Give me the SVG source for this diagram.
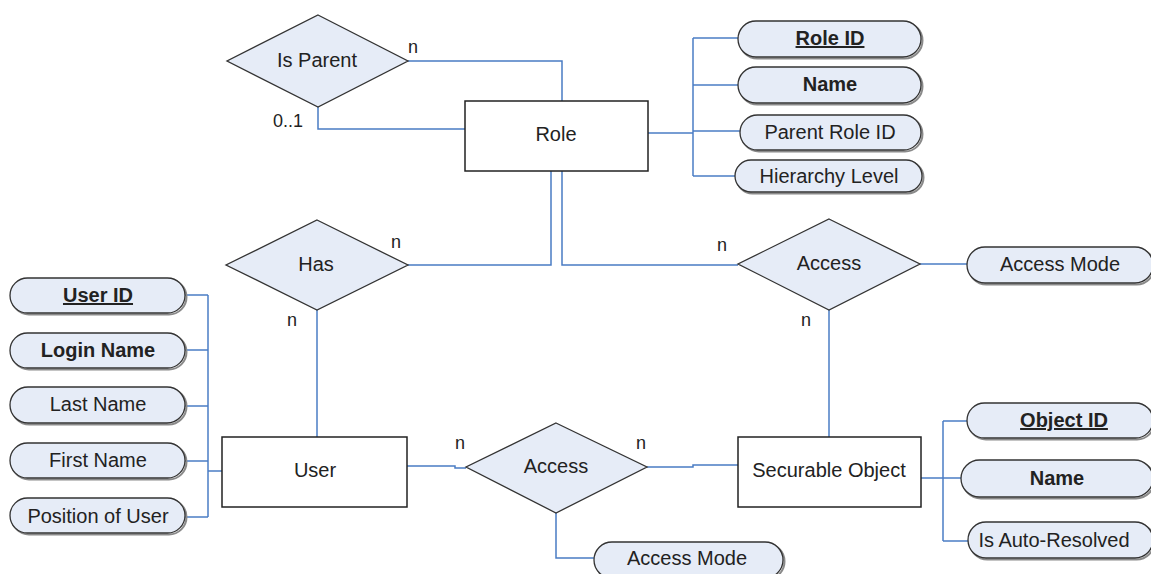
<svg xmlns="http://www.w3.org/2000/svg" width="1151" height="574" viewBox="0 0 1151 574">
<style>
.ent{fill:#ffffff;stroke:#222;stroke-width:1.5}
.rel{fill:#e6ecf7;stroke:#333;stroke-width:1.3}
.att{fill:#e6ecf7;stroke:#333;stroke-width:1.3}
.sh{fill:none;stroke:#8a8a8a;stroke-width:2}
.t{font-family:"Liberation Sans",Arial,sans-serif;font-size:20px;fill:#222;text-anchor:middle}
.b{font-weight:bold}
.u{text-decoration:underline}
.lbl{font-family:"Liberation Sans",Arial,sans-serif;font-size:18px;fill:#222}
.c{fill:none;stroke:#4a7cc4;stroke-width:1.5}
</style>
<g id="connectors">
<polyline class="c" points="408,61 562,61 562,101"/>
<polyline class="c" points="318,107 318,129 465,129"/>
<polyline class="c" points="648,133 693,133"/>
<polyline class="c" points="693,38 693,176"/>
<line class="c" x1="693" y1="38" x2="738" y2="38"/>
<line class="c" x1="693" y1="85" x2="738" y2="85"/>
<line class="c" x1="693" y1="131" x2="740" y2="131"/>
<line class="c" x1="693" y1="176" x2="735" y2="176"/>
<polyline class="c" points="408,265 551,265 551,171"/>
<polyline class="c" points="562,171 562,265 738,265"/>
<line class="c" x1="920" y1="264" x2="967" y2="264"/>
<line class="c" x1="829" y1="310" x2="829" y2="437"/>
<line class="c" x1="317" y1="310" x2="317" y2="437"/>
<polyline class="c" points="208,295 208,517"/>
<line class="c" x1="185" y1="295" x2="208" y2="295"/>
<line class="c" x1="185" y1="350" x2="208" y2="350"/>
<line class="c" x1="185" y1="406" x2="208" y2="406"/>
<line class="c" x1="185" y1="461" x2="208" y2="461"/>
<line class="c" x1="185" y1="517" x2="208" y2="517"/>
<line class="c" x1="208" y1="471" x2="222" y2="471"/>
<polyline class="c" points="407,466 455,466 455,468 466,468"/>
<polyline class="c" points="647,467 693,467 693,465 738,465"/>
<polyline class="c" points="556,513 556,558 594,558"/>
<line class="c" x1="921" y1="478" x2="943" y2="478"/>
<polyline class="c" points="943,421 943,541"/>
<line class="c" x1="943" y1="421" x2="967" y2="421"/>
<line class="c" x1="943" y1="478" x2="961" y2="478"/>
<line class="c" x1="943" y1="541" x2="968" y2="541"/>
</g>
<g id="role"><rect class="ent" x="465" y="101" width="183" height="70"/><text class="t" x="556" y="141">Role</text></g>
<g id="user"><rect class="ent" x="222" y="437" width="185" height="70"/><text class="t" x="315" y="477">User</text></g>
<g id="securable-object"><rect class="ent" x="738" y="437" width="183" height="70"/><text class="t" x="829" y="477">Securable Object</text></g>
<g id="is-parent"><polygon class="rel" points="318,15 408,61 318,107 227,61"/><text class="t" x="317" y="67">Is Parent</text></g>
<g id="has"><polygon class="rel" points="317,220 408,265 317,310 226,265"/><text class="t" x="316" y="271">Has</text></g>
<g id="access-top"><polygon class="rel" points="829,219 920,264 829,310 738,264"/><text class="t" x="829" y="270">Access</text></g>
<g id="access-bottom"><polygon class="rel" points="556,423 647,467 556,513 466,467"/><text class="t" x="556" y="473">Access</text></g>
<g id="attr-role-id"><rect class="sh" x="739.5" y="22.5" width="183" height="36" rx="18"/><rect class="att" x="738" y="21" width="183" height="36" rx="18"/><text class="t b u" x="830" y="45">Role ID</text></g>
<g id="attr-role-name"><rect class="sh" x="739.5" y="68.5" width="183" height="36" rx="18"/><rect class="att" x="738" y="67" width="183" height="36" rx="18"/><text class="t b" x="830" y="91">Name</text></g>
<g id="attr-parent-role-id"><rect class="sh" x="741.5" y="116.5" width="181" height="35" rx="17.5"/><rect class="att" x="740" y="115" width="181" height="35" rx="17.5"/><text class="t" x="830" y="139">Parent Role ID</text></g>
<g id="attr-hierarchy-level"><rect class="sh" x="736.5" y="161.5" width="187" height="32" rx="16"/><rect class="att" x="735" y="160" width="187" height="32" rx="16"/><text class="t" x="829" y="183">Hierarchy Level</text></g>
<g id="attr-access-mode-top"><rect class="sh" x="968.5" y="248.5" width="186" height="36" rx="18"/><rect class="att" x="967" y="247" width="186" height="36" rx="18"/><text class="t" x="1060" y="271">Access Mode</text></g>
<g id="attr-user-id"><rect class="sh" x="11.5" y="279.5" width="175" height="35" rx="17.5"/><rect class="att" x="10" y="278" width="175" height="35" rx="17.5"/><text class="t b u" x="98" y="302">User ID</text></g>
<g id="attr-login-name"><rect class="sh" x="11.5" y="334.5" width="175" height="35" rx="17.5"/><rect class="att" x="10" y="333" width="175" height="35" rx="17.5"/><text class="t b" x="98" y="357">Login Name</text></g>
<g id="attr-last-name"><rect class="sh" x="11.5" y="388.5" width="175" height="36" rx="18"/><rect class="att" x="10" y="387" width="175" height="36" rx="18"/><text class="t" x="98" y="411">Last Name</text></g>
<g id="attr-first-name"><rect class="sh" x="11.5" y="444.5" width="175" height="35" rx="17.5"/><rect class="att" x="10" y="443" width="175" height="35" rx="17.5"/><text class="t" x="98" y="467">First Name</text></g>
<g id="attr-position"><rect class="sh" x="11.5" y="499.5" width="175" height="35" rx="17.5"/><rect class="att" x="10" y="498" width="175" height="35" rx="17.5"/><text class="t" x="98" y="523">Position of User</text></g>
<g id="attr-object-id"><rect class="sh" x="968.5" y="404.5" width="186" height="35" rx="17.5"/><rect class="att" x="967" y="403" width="186" height="35" rx="17.5"/><text class="t b u" x="1064" y="427">Object ID</text></g>
<g id="attr-object-name"><rect class="sh" x="962.5" y="461.5" width="192" height="37" rx="18.5"/><rect class="att" x="961" y="460" width="192" height="37" rx="18.5"/><text class="t b" x="1057" y="485">Name</text></g>
<g id="attr-auto-resolved"><rect class="sh" x="969.5" y="523.5" width="185" height="36" rx="18"/><rect class="att" x="968" y="522" width="185" height="36" rx="18"/><text class="t" x="1054" y="547">Is Auto-Resolved</text></g>
<g id="attr-access-mode-bottom"><rect class="sh" x="595.5" y="543.5" width="189" height="36" rx="18"/><rect class="att" x="594" y="542" width="189" height="36" rx="18"/><text class="t" x="687" y="565">Access Mode</text></g>
<g id="labels">
<text class="lbl" x="408" y="53">n</text>
<text class="lbl" x="273" y="127">0..1</text>
<text class="lbl" x="391" y="248">n</text>
<text class="lbl" x="287" y="326">n</text>
<text class="lbl" x="717" y="251">n</text>
<text class="lbl" x="801" y="326">n</text>
<text class="lbl" x="455" y="449">n</text>
<text class="lbl" x="636" y="449">n</text>
</g>
</svg>
